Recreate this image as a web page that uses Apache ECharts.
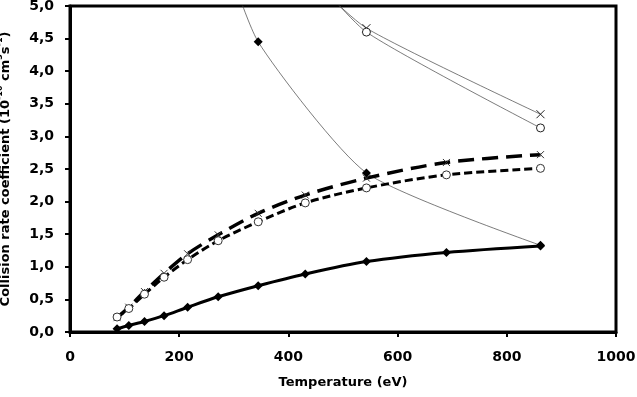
<!DOCTYPE html>
<html>
<head>
<meta charset="utf-8">
<script src="https://cdn.jsdelivr.net/npm/echarts@6/dist/echarts.min.js"></script>
<style>
  html, body { margin: 0; padding: 0; background: #fff; }
  #chart { width: 637px; height: 397px; }
</style>
</head>
<body>
<div id="chart"></div>
<script>
// temperatures (eV)
var temps = [86.2, 107.7, 136.4, 172.3, 215.4, 271.4, 344.7, 430.9, 542.9, 689.4, 861.7];

// thick curves
var solidDiamond = [0.05, 0.10, 0.16, 0.25, 0.38, 0.54, 0.71, 0.89, 1.08, 1.22, 1.32];
var longDashCross = [0.22, 0.38, 0.62, 0.90, 1.20, 1.49, 1.82, 2.10, 2.36, 2.60, 2.72];
var shortDashCircle = [0.23, 0.36, 0.58, 0.84, 1.11, 1.40, 1.69, 1.98, 2.21, 2.41, 2.51];

// thin decreasing curves (first points lie above the axis top)
var thinDiamondT = [271.4, 344.7, 542.9, 861.7];
var thinDiamond = [6.1, 4.45, 2.44, 1.33];
var thinCrossT = [430.9, 542.9, 861.7];
var thinCross = [5.5, 4.66, 3.34];
var thinCircleT = [430.9, 542.9, 861.7];
var thinCircle = [5.6, 4.60, 3.13];

var xTicks = { min: 0, max: 1000, interval: 200 };
var yTicks = { min: 0, max: 5, interval: 0.5 };

function pairs(xs, ys) {
    return xs.map(function (x, i) { return [x, ys[i]]; });
}

var crossPath = 'path://M0,0L10,10M0,10L10,0';
var font = 'DejaVu Sans';

var myChart = echarts.init(document.getElementById('chart'));

var option = {
    animation: false,
    backgroundColor: '#fff',
    grid: {
        left: 70, right: 21, top: 6, bottom: 65,
        outerBoundsMode: 'none',
        show: true, borderColor: '#000', borderWidth: 3
    },
    xAxis: {
        type: 'value',
        min: xTicks.min, max: xTicks.max, interval: xTicks.interval,
        name: 'Temperature (eV)',
        nameLocation: 'middle',
        nameGap: 44,
        nameTextStyle: { fontFamily: font, fontWeight: 'bold', fontSize: 13, color: '#000' },
        axisLine: { lineStyle: { color: '#000', width: 3 } },
        axisTick: { show: true, length: 5, lineStyle: { color: '#000', width: 2 } },
        axisLabel: {
            fontFamily: font, fontWeight: 'bold', fontSize: 14, color: '#000', margin: 18,
            formatter: function (v) { return String(v); }
        },
        splitLine: { show: false }
    },
    yAxis: {
        type: 'value',
        min: yTicks.min, max: yTicks.max, interval: yTicks.interval,
        name: '{a|Collision rate coefficient (10}{s|-10}{a| cm}{s|3}{a|s}{s|-1}{a|)}',
        nameLocation: 'middle',
        nameGap: 58,
        nameRotate: 90,
        nameTextStyle: {
            color: '#000',
            rich: {
                a: { fontFamily: font, fontWeight: 'bold', fontSize: 13, color: '#000', lineHeight: 16, verticalAlign: 'bottom' },
                s: { fontFamily: font, fontWeight: 'bold', fontSize: 8, color: '#000', lineHeight: 16, verticalAlign: 'top' }
            }
        },
        axisLine: { show: true, lineStyle: { color: '#000', width: 3 } },
        axisTick: { show: true, length: 5, lineStyle: { color: '#000', width: 2 } },
        axisLabel: {
            fontFamily: font, fontWeight: 'bold', fontSize: 14, color: '#000', margin: 16,
            formatter: function (v) { return v.toFixed(1).replace('.', ','); }
        },
        splitLine: { show: false }
    },
    series: [
        {
            type: 'line', data: pairs(thinDiamondT, thinDiamond), smooth: 0.2, clip: true,
            symbol: 'diamond', symbolSize: 9,
            itemStyle: { color: '#000' },
            lineStyle: { color: '#444', width: 0.7 }, z: 2
        },
        {
            type: 'line', data: pairs(thinCrossT, thinCross), smooth: 0.2, clip: true,
            symbol: crossPath, symbolSize: 8,
            itemStyle: { color: 'transparent', borderColor: '#222', borderWidth: 1 },
            lineStyle: { color: '#444', width: 0.7 }, z: 2
        },
        {
            type: 'line', data: pairs(thinCircleT, thinCircle), smooth: 0.2, clip: true,
            symbol: 'circle', symbolSize: 8,
            itemStyle: { color: '#fff', borderColor: '#222', borderWidth: 1 },
            lineStyle: { color: '#444', width: 0.7 }, z: 2
        },
        {
            type: 'line', data: pairs(temps, longDashCross), smooth: 0.3,
            symbol: crossPath, symbolSize: 7,
            itemStyle: { color: 'transparent', borderColor: '#333', borderWidth: 1 },
            lineStyle: { color: '#000', width: 3.5, type: [16, 8] }, z: 3
        },
        {
            type: 'line', data: pairs(temps, shortDashCircle), smooth: 0.3,
            symbol: 'circle', symbolSize: 8,
            itemStyle: { color: '#fff', borderColor: '#333', borderWidth: 1 },
            lineStyle: { color: '#000', width: 3, type: [8, 4] }, z: 3
        },
        {
            type: 'line', data: pairs(temps, solidDiamond), smooth: 0.3,
            symbol: 'diamond', symbolSize: 9,
            itemStyle: { color: '#000' },
            lineStyle: { color: '#000', width: 3 }, z: 4
        }
    ]
};

myChart.setOption(option);
</script>
</body>
</html>
